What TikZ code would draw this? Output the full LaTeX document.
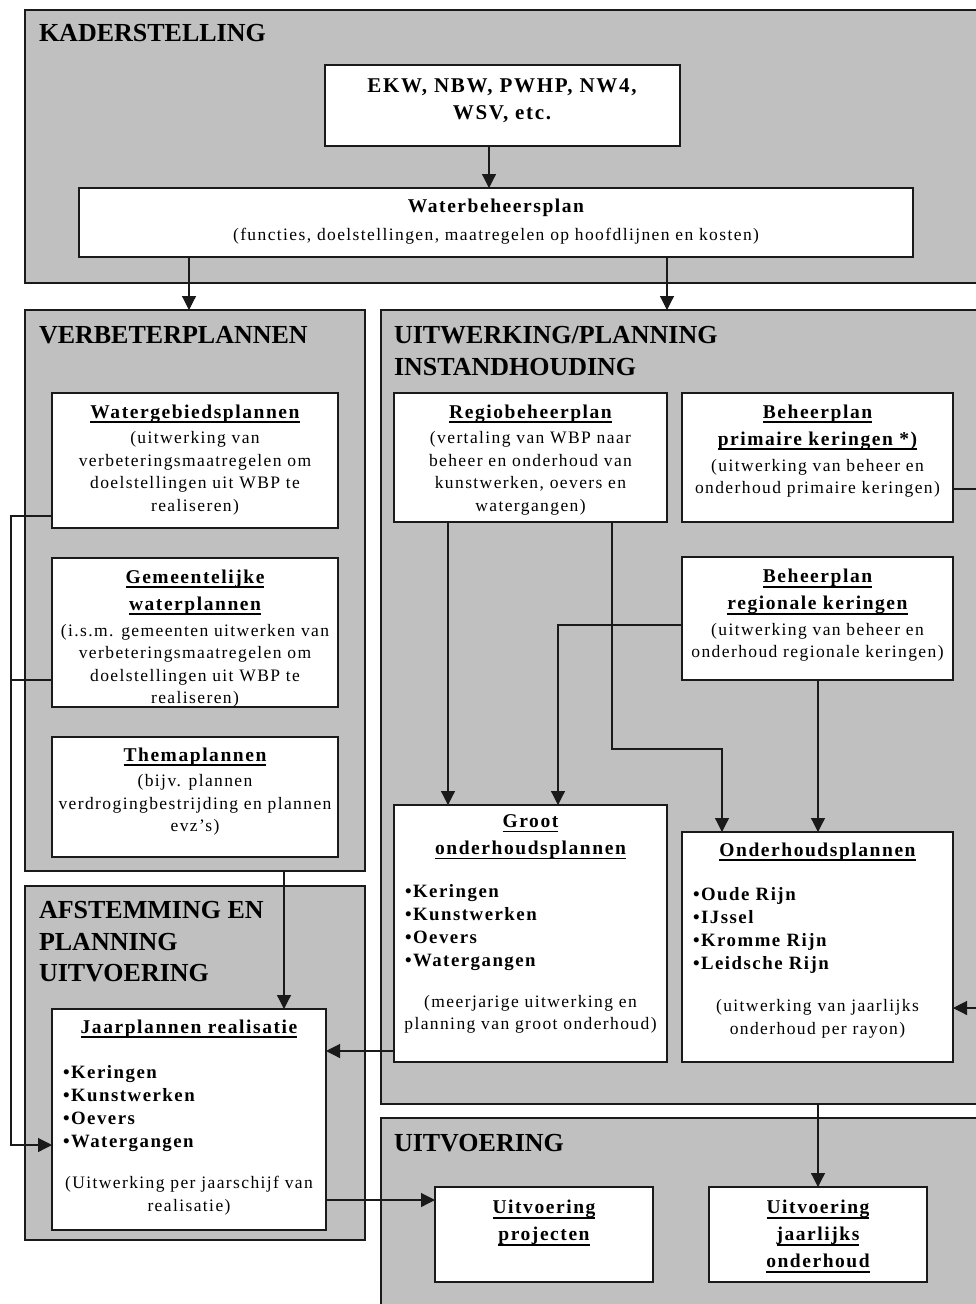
\documentclass[tikz,border=0pt]{standalone}
\usepackage{fontspec}
\setmainfont{Liberation Serif}
\newfontfamily\spfont{Liberation Serif}[LetterSpace=8]
\usetikzlibrary{arrows.meta}
\definecolor{pgray}{HTML}{C0C0C0}
\definecolor{ink}{HTML}{1A1A1A}
\newcommand\headf{\fontsize{26}{32}\selectfont\bfseries}
\newcommand\titf{\spfont\fontsize{19.5}{27}\selectfont\bfseries}
\newcommand\bodf{\spfont\fontsize{17.5}{22.5}\selectfont}
\newcommand\bulf{\spfont\fontsize{18.8}{23}\selectfont\bfseries}
\newcommand\ekwf{\spfont\fontsize{21}{26.5}\selectfont\bfseries}
\newcommand\ulx[1]{\setbox0=\hbox{#1}\rlap{\rule[-4.8pt]{\wd0}{1.8pt}}\box0}
\begin{document}
\begin{tikzpicture}[x=1pt,y=-1pt,
  panel/.style={draw=ink, fill=pgray, line width=1.2pt, anchor=north west, inner sep=0pt, outer sep=0pt},
  box/.style={draw=ink, fill=white, line width=1.2pt, anchor=north west, inner sep=0pt, outer sep=0pt},
  txt/.style={inner sep=0pt, outer sep=0pt, align=center, text=black},
  head/.style={inner sep=0pt, outer sep=0pt, anchor=base west, font=\headf},
  bul/.style={inner sep=0pt, outer sep=0pt, align=left, anchor=west, font=\bulf},
  conn/.style={draw=ink, line width=1.2pt},
  arr/.style={conn, -{Triangle[length=14pt,width=14pt]}}]
\useasboundingbox (0,0) rectangle (975,1304);
\fill[white] (0,0) rectangle (975,1304);
% panels
\node[panel, minimum width=980pt, minimum height=273pt] (pk) at (25,10) {};
\node[panel, minimum width=340pt, minimum height=561pt] (pv) at (25,310) {};
\node[panel, minimum width=340pt, minimum height=354pt] (pa) at (25,886) {};
\node[panel, minimum width=620pt, minimum height=794pt] (pu) at (381,310) {};
\node[panel, minimum width=620pt, minimum height=220pt] (px) at (381,1118) {};
% headings
\node[head] (hk) at (39,41.5) {KADERSTELLING};
\node[head] (hv) at (39,343) {VERBETERPLANNEN};
\node[head] (hu1) at (394,343) {UITWERKING/PLANNING};
\node[head] (hu2) at (394,375) {INSTANDHOUDING};
\node[head] (ha1) at (39,918.5) {AFSTEMMING EN};
\node[head] (ha2) at (39,950) {PLANNING};
\node[head] (ha3) at (39,981.5) {UITVOERING};
\node[head] (hx) at (394,1151) {UITVOERING};
% boxes
\node[box, minimum width=355pt, minimum height=81pt] (ekw) at (325,65) {};
\node[box, minimum width=834pt, minimum height=69pt] (wbp) at (79,188) {};
\node[box, minimum width=286pt, minimum height=135pt] (wgp) at (52,393) {};
\node[box, minimum width=286pt, minimum height=149pt] (gwp) at (52,558) {};
\node[box, minimum width=286pt, minimum height=120pt] (thp) at (52,737) {};
\node[box, minimum width=274pt, minimum height=221pt] (jpr) at (52,1009) {};
\node[box, minimum width=273pt, minimum height=129pt] (rbp) at (394,393) {};
\node[box, minimum width=271pt, minimum height=129pt] (bpk) at (682,393) {};
\node[box, minimum width=271pt, minimum height=123pt] (brk) at (682,557) {};
\node[box, minimum width=273pt, minimum height=257pt] (gop) at (394,805) {};
\node[box, minimum width=271pt, minimum height=230pt] (ohp) at (682,832) {};
\node[box, minimum width=218pt, minimum height=95pt] (uvp) at (435,1187) {};
\node[box, minimum width=218pt, minimum height=95pt] (uvj) at (709,1187) {};
% texts
\node[txt, font=\ekwf] (ekw-t) at (502,100.5) {EKW, NBW, PWHP, NW4,\\WSV, etc.};
\node[txt, font=\titf] (wbp-t) at (496,208) {Waterbeheersplan};
\node[txt, font=\bodf] (wbp-b) at (496,236) {(functies, doelstellingen, maatregelen op hoofdlijnen en kosten)};
\node[txt, font=\titf] (wgp-t) at (195,414) {\ulx{Watergebiedsplannen}};
\node[txt, font=\bodf] (wgp-b) at (195,473.5) {(uitwerking van\\verbeteringsmaatregelen om\\doelstellingen uit WBP te\\realiseren)};
\node[txt, font=\titf] (gwp-t) at (195,592.5) {\ulx{Gemeentelijke}\\\ulx{waterplannen}};
\node[txt, font=\bodf] (gwp-b) at (195,666) {(i.s.m. gemeenten uitwerken van\\verbeteringsmaatregelen om\\doelstellingen uit WBP te\\realiseren)};
\node[txt, font=\titf] (thp-t) at (195,757) {\ulx{Themaplannen}};
\node[txt, font=\bodf] (thp-b) at (195,805) {(bijv. plannen\\verdrogingbestrijding en plannen\\evz’s)};
\node[txt, font=\titf] (jpr-t) at (189,1029) {\ulx{Jaarplannen realisatie}};
\node[bul] (jpr-l) at (63,1108.5) {•Keringen\\•Kunstwerken\\•Oevers\\•Watergangen};
\node[txt, font=\bodf] (jpr-b) at (189,1195.5) {(Uitwerking per jaarschijf van\\realisatie)};
\node[txt, font=\titf] (rbp-t) at (530.5,414) {\ulx{Regiobeheerplan}};
\node[txt, font=\bodf] (rbp-b) at (530.5,473.5) {(vertaling van WBP naar\\beheer en onderhoud van\\kunstwerken, oevers en\\watergangen)};
\node[txt, font=\titf] (bpk-t) at (817.5,427.5) {\ulx{Beheerplan}\\\ulx{primaire keringen *)}};
\node[txt, font=\bodf] (bpk-b) at (817.5,478.5) {(uitwerking van beheer en\\onderhoud primaire keringen)};
\node[txt, font=\titf] (brk-t) at (817.5,592) {\ulx{Beheerplan}\\\ulx{regionale keringen}};
\node[txt, font=\bodf] (brk-b) at (817.5,642.5) {(uitwerking van beheer en\\onderhoud regionale keringen)};
\node[txt, font=\titf] (gop-t) at (530.5,837) {\ulx{Groot}\\\ulx{onderhoudsplannen}};
\node[bul] (gop-l) at (405,928) {•Keringen\\•Kunstwerken\\•Oevers\\•Watergangen};
\node[txt, font=\bodf] (gop-b) at (530.5,1014.5) {(meerjarige uitwerking en\\planning van groot onderhoud)};
\node[txt, font=\titf] (ohp-t) at (817.5,852) {\ulx{Onderhoudsplannen}};
\node[bul] (ohp-l) at (693,930.5) {•Oude Rijn\\•IJssel\\•Kromme Rijn\\•Leidsche Rijn};
\node[txt, font=\bodf] (ohp-b) at (817.5,1019) {(uitwerking van jaarlijks\\onderhoud per rayon)};
\node[txt, font=\titf] (uvp-t) at (544,1223) {\ulx{Uitvoering}\\\ulx{projecten}};
\node[txt, font=\titf] (uvj-t) at (818,1236.5) {\ulx{Uitvoering}\\\ulx{jaarlijks}\\\ulx{onderhoud}};
% connectors
\draw[arr] (489,0 |- ekw.south) -- (489,0 |- wbp.north);
\draw[arr] (189,0 |- wbp.south) -- (189,0 |- pv.north);
\draw[arr] (667,0 |- wbp.south) -- (667,0 |- pu.north);
\draw[arr] (448,0 |- rbp.south) -- (448,0 |- gop.north);
\draw[arr] (612,0 |- rbp.south) -- (612,749) -- (722,749) -- (722,0 |- ohp.north);
\draw[arr] (brk.west |- 0,625) -- (558,625) -- (558,0 |- gop.north);
\draw[arr] (818,0 |- brk.south) -- (818,0 |- ohp.north);
\draw[arr] (bpk.east |- 0,489) -- (1000,489) -- (1000,1008) -- (ohp.east |- 0,1008);
\draw[arr] (gop.west |- 0,1051) -- (jpr.east |- 0,1051);
\draw[arr] (284,0 |- pv.south) -- (284,0 |- jpr.north);
\draw[arr] (wgp.west |- 0,516) -- (11,516) -- (11,1145) -- (jpr.west |- 0,1145);
\draw[conn] (gwp.west |- 0,680) -- (11,680);
\draw[arr] (jpr.east |- 0,1200) -- (uvp.west |- 0,1200);
\draw[arr] (818,0 |- pu.south) -- (818,0 |- uvj.north);
\end{tikzpicture}
\end{document}
